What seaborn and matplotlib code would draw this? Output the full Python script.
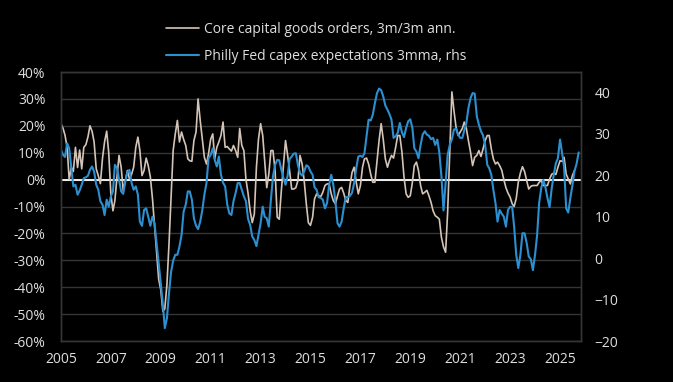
import pandas as pd
import seaborn as sns
import matplotlib.pyplot as plt
import matplotlib.dates as mdates
from matplotlib.ticker import FuncFormatter

# Core capital goods orders, 3m/3m annualised (%), monthly from Jan 2005
core_2005 = [20.8, 19, 16.5, 12, 0, 4.5, 3, 12, 4.5, 11, 4, 12]
core_2006 = [13, 16, 20, 18, 14, 4, 1.5, -1.5, 8, 14, 18, 10]
core_2007 = [-5.3, -11.6, -7.8, 1, 9, 4.6, -4, -0.4, 3.4, 0.2, 2, 4.6]
core_2008 = [12, 15.8, 10.8, 1.5, 3.4, 8, 5.2, 1, -7, -17, -27, -37]
core_2009 = [-41, -49, -48, -39, -24, -6.6, 10.8, 17, 22, 14, 17.7, 15]
core_2010 = [12.7, 7.7, 7, 6.8, 14.5, 17.7, 30, 22, 15, 8.3, 5.8, 9.6]
core_2011 = [15, 17, 7.7, 12, 14, 16.4, 21.4, 12, 12.3, 11.4, 10.6, 12.7]
core_2012 = [10.8, 8.3, 19, 12.7, 10.8, 0, -5, -11.6, -16, -12.8, 4.6, 15]
core_2013 = [20.8, 16.4, 7, -3, 2, 10.8, 10.8, 3.4, -14, -14.7, -4, 5.2]
core_2014 = [14.5, 9, 3.4, -3.5, -3.5, -3, -0.4, 9, 5.8, -0.4, -9, -16]
core_2015 = [-17, -14, -7.2, -5.3, -6, -6.3, -4.7, -2.2, -1.6, -1.6, -5.3, -7.8]
core_2016 = [-9, -6, -3.5, -2.9, -5, -7.8, -8.5, -2.2, 2.7, 4.6, -1, -5.3]
core_2017 = [-2.2, 4.6, 7.7, 8, 5.8, 2, -1, -1, 7, 14.5, 20.8, 15]
core_2018 = [7.7, 4.6, 7, 9, 8, 12, 16.4, 16.4, 10.2, 1, -5.3, -6.6]
core_2019 = [-6, -1, 5.2, 6.5, 3.4, -2.2, -5.3, -4.7, -4, -6, -8.5, -11.6]
core_2020 = [-13.4, -14, -14.7, -21.5, -25, -27, -12, 10.8, 32.6, 25.7, 19.5, 16.4]
core_2021 = [17.7, 19, 21.4, 19, 14.5, 10.2, 5.2, 8.3, 9, 10.8, 8.6, 11.4]
core_2022 = [14.5, 16.4, 16.4, 11.4, 7.7, 5.8, 6.5, 5.2, 3.5, 0, -3, -5]
core_2023 = [-6.5, -9, -10, -7, -1, 2.5, 4.8, 3, -0.4, -3.5, -2.5, -2.2]
core_2024 = [-2.2, -2.2, -1, -0.4, -2.2, -2.2, -2.2, 0.2, 2, 2.4, 1.9, 4.6]
core_2025 = [7, 6.8, 8.3, 2, 0.2, -1.6, 1.5, 3.4]

# Philly Fed capex expectations, 3mma (rhs), monthly from Jan 2005
capex_2005 = [26.1, 24.9, 24.4, 27.7, 26.5, 21.7, 17.3, 17.7, 15.3, 16.3, 17.7, 19.3]
capex_2006 = [19.5, 19.9, 21.3, 22.1, 20.9, 17.7, 16.5, 13.7, 12.9, 10.4, 14.1, 12.4]
capex_2007 = [14.9, 16.1, 22.5, 21.7, 18.9, 16.1, 15.5, 18.5, 20.7, 21.3, 18.1, 16.5]
capex_2008 = [17.3, 15.3, 8.8, 7.8, 11.6, 12, 10, 7.8, 10, 8.4, 3.6, -1.2]
capex_2009 = [-6.1, -11.3, -16.9, -14.5, -8.5, -3.3, -0.6, 0.8, 0.8, 2.8, 5.6, 11.2]
capex_2010 = [12.9, 16.1, 16.1, 14.1, 9.6, 7.8, 7, 8.8, 11.6, 15.3, 18.1, 24.1]
capex_2011 = [24.9, 26.5, 23.7, 22.1, 24.5, 20.1, 18.2, 17.3, 12.9, 10.8, 10.4, 13.7]
capex_2012 = [15.7, 18.1, 18.1, 16.5, 14.9, 13.7, 9.5, 8, 5.2, 4.4, 2.9, 5.6]
capex_2013 = [8.4, 12.4, 10, 9.6, 7.6, 14.1, 19.7, 22.5, 23.7, 23.6, 21.3, 19.3]
capex_2014 = [17.7, 19.9, 23.9, 24.5, 25.2, 25.3, 22.5, 20.5, 19.9, 20.9, 22.4, 22.1]
capex_2015 = [20.9, 20.1, 17.1, 16.5, 14.7, 14.5, 14.1, 12, 13.3, 17.7, 20.1, 17.7]
capex_2016 = [13.7, 8.4, 7.6, 8.8, 12, 14.7, 14.7, 15, 15.8, 18.1, 21.7, 24.5]
capex_2017 = [24.7, 24.4, 25.3, 29.4, 33.4, 33.2, 34.6, 37.4, 39.8, 40.9, 40.5, 39]
capex_2018 = [36.8, 35.8, 34.8, 33.4, 29, 29.4, 30.2, 32.6, 30.3, 29.2, 31.4, 33]
capex_2019 = [33.5, 31.4, 26.5, 25.7, 24.1, 27.3, 29.8, 30.6, 29.8, 29.5, 28.7, 29]
capex_2020 = [27.3, 28.6, 25.5, 19.7, 11.5, 18.1, 24.9, 27.3, 28.7, 31, 31.2, 29.8]
capex_2021 = [29, 29, 30.8, 32.6, 36.2, 38.6, 39.8, 39.7, 34.2, 32.2, 30.6, 29.6]
capex_2022 = [27.3, 22.5, 21.7, 20.1, 16.5, 13.3, 8.8, 11.6, 10.7, 10, 7.6, 11.6]
capex_2023 = [12.4, 12.3, 7.6, 0.8, -2.4, 0.8, 6, 6, 3.6, 0.4, -0.3, -2.9]
capex_2024 = [0.8, 5.6, 13.3, 16.9, 18.9, 17.1, 14.5, 12.3, 16.8, 20.1, 22.9, 24.1]
capex_2025 = [28.6, 25.3, 22, 12, 11, 14.5, 17.5, 21, 22.8, 25.5]

core_orders = (core_2005 + core_2006 + core_2007 + core_2008 + core_2009 + core_2010
               + core_2011 + core_2012 + core_2013 + core_2014 + core_2015 + core_2016
               + core_2017 + core_2018 + core_2019 + core_2020 + core_2021 + core_2022
               + core_2023 + core_2024 + core_2025)
philly_capex = (capex_2005 + capex_2006 + capex_2007 + capex_2008 + capex_2009 + capex_2010
                + capex_2011 + capex_2012 + capex_2013 + capex_2014 + capex_2015 + capex_2016
                + capex_2017 + capex_2018 + capex_2019 + capex_2020 + capex_2021 + capex_2022
                + capex_2023 + capex_2024 + capex_2025)

year_ticks = list(range(2005, 2026, 2))

label_core = "Core capital goods orders, 3m/3m ann."
label_capex = "Philly Fed capex expectations 3mma, rhs"

df_core = pd.DataFrame({
    "date": pd.date_range("2005-01-01", periods=len(core_orders), freq="MS"),
    "value": core_orders,
})
df_capex = pd.DataFrame({
    "date": pd.date_range("2005-01-01", periods=len(philly_capex), freq="MS"),
    "value": philly_capex,
})

BG = "black"
TXT = "#dedede"
GRID = "#353535"
BEIGE = "#d4c4b7"
BLUE = "#2b8fd0"

sns.set_theme(style="dark", rc={
    "figure.facecolor": BG,
    "axes.facecolor": BG,
    "savefig.facecolor": BG,
})
plt.rcParams["font.family"] = ["Open Sans", "DejaVu Sans"]

fig = plt.figure(figsize=(6.73, 3.82), dpi=100)
ax = fig.add_axes([0.0906, 0.1073, 0.7723, 0.7042])
ax2 = ax.twinx()

sns.lineplot(data=df_core, x="date", y="value", ax=ax, color=BEIGE, lw=1.2,
             label=label_core, legend=False)
sns.lineplot(data=df_capex, x="date", y="value", ax=ax2, color=BLUE, lw=1.5,
             label=label_capex, legend=False)

ax.axhline(0, color="white", lw=1.3, zorder=1)

ax.set_ylim(-60, 40)
ax.set_yticks(range(-60, 41, 10))
ax.yaxis.set_major_formatter(FuncFormatter(lambda v, p: f"{v:.0f}%"))
ax2.set_ylim(-20, 44.9)
ax2.set_yticks(range(-20, 41, 10))

ax.set_xlim(pd.Timestamp("2005-01-01"), pd.Timestamp("2025-10-31"))
ax.set_xticks([pd.Timestamp(f"{y}-01-01") for y in year_ticks])
ax.xaxis.set_major_formatter(mdates.DateFormatter("%Y"))

ax.grid(axis="y", color=GRID, lw=1)
ax.grid(axis="x", visible=False)
ax2.grid(False)
ax2.patch.set_visible(False)

for a in (ax, ax2):
    a.set_xlabel("")
    a.set_ylabel("")
    for s in a.spines.values():
        s.set_visible(True)
        s.set_color(GRID)
        s.set_linewidth(1)

ax.tick_params(axis="y", length=0, pad=11, labelsize=10, labelcolor=TXT)
ax.tick_params(axis="x", length=0, pad=8, labelsize=10, labelcolor=TXT)
ax2.tick_params(axis="y", length=0, pad=10, labelsize=10, labelcolor=TXT)

h1, l1 = ax.get_legend_handles_labels()
h2, l2 = ax2.get_legend_handles_labels()
fig.legend(h1 + h2, l1 + l2, loc="upper left", bbox_to_anchor=(166 / 673, 1 - 22 / 382),
           frameon=False, fontsize=10, labelcolor=TXT, handlelength=2.4,
           handletextpad=0.3, labelspacing=0.85, borderpad=0, borderaxespad=0)

plt.savefig("out.png", dpi=100, facecolor=BG)
plt.close()
